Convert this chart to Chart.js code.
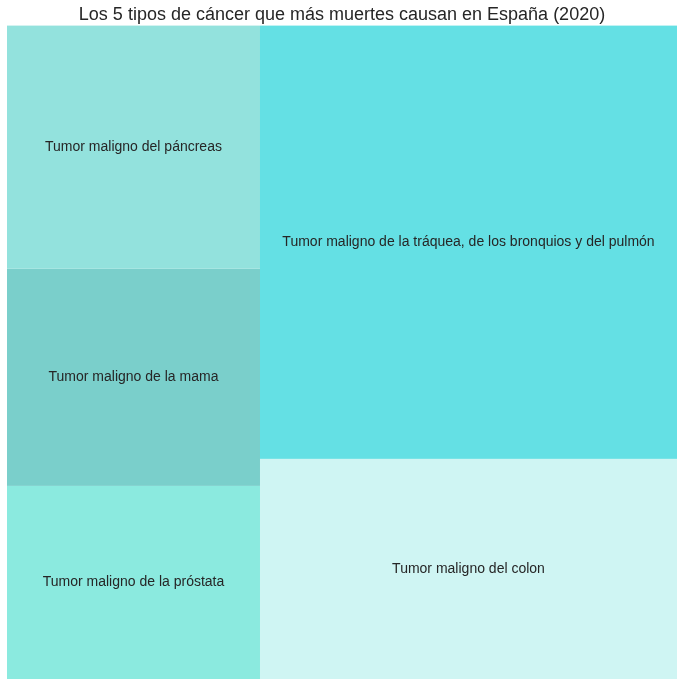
<!DOCTYPE html>
<html>
<head>
<meta charset="utf-8">
<script src="https://cdn.jsdelivr.net/npm/chart.js@4"></script>
<style>
html,body{margin:0;padding:0;background:#fff;}
#wrap{width:683px;height:686px;position:relative;}
</style>
</head>
<body>
<div id="wrap"><canvas id="c"></canvas></div>
<script>
// Data (ascending order, as laid out by squarify)
const categories = [
  "Tumor maligno de la próstata",
  "Tumor maligno de la mama",
  "Tumor maligno del páncreas",
  "Tumor maligno del colon",
  "Tumor maligno de la tráquea, de los bronquios y del pulmón"
];
const deaths = [6026, 6777, 7587, 11324, 22286];
const colors = ["#8beadf", "#7acfcb", "#93e2dd", "#cff5f3", "#64e0e4"];
const titleText = "Los 5 tipos de cáncer que más muertes causan en España (2020)";

// squarify layout (in data units 0..100 x 0..100, y upward)
function normalize(sizes, dx, dy){
  const tot = sizes.reduce((a,b)=>a+b,0);
  return sizes.map(s => s * dx * dy / tot);
}
function layoutrow(sizes,x,y,dx,dy){
  const cov = sizes.reduce((a,b)=>a+b,0), w = cov/dy, r=[];
  for(const s of sizes){ r.push({x:x,y:y,dx:w,dy:s/w}); y += s/w; }
  return r;
}
function layoutcol(sizes,x,y,dx,dy){
  const cov = sizes.reduce((a,b)=>a+b,0), h = cov/dx, r=[];
  for(const s of sizes){ r.push({x:x,y:y,dx:s/h,dy:h}); x += s/h; }
  return r;
}
function layout(sizes,x,y,dx,dy){ return dx>=dy ? layoutrow(sizes,x,y,dx,dy) : layoutcol(sizes,x,y,dx,dy); }
function leftover(sizes,x,y,dx,dy){
  const cov = sizes.reduce((a,b)=>a+b,0);
  if(dx>=dy){ const w=cov/dy; return [x+w,y,dx-w,dy]; }
  const h=cov/dx; return [x,y+h,dx,dy-h];
}
function worst(sizes,x,y,dx,dy){
  return Math.max(...layout(sizes,x,y,dx,dy).map(r=>Math.max(r.dx/r.dy,r.dy/r.dx)));
}
function squarify(sizes,x,y,dx,dy){
  if(sizes.length===0) return [];
  if(sizes.length===1) return layout(sizes,x,y,dx,dy);
  let i=1;
  while(i<sizes.length && worst(sizes.slice(0,i),x,y,dx,dy) >= worst(sizes.slice(0,i+1),x,y,dx,dy)) i++;
  const cur=sizes.slice(0,i), rem=sizes.slice(i);
  const [lx,ly,ldx,ldy]=leftover(cur,x,y,dx,dy);
  return layout(cur,x,y,dx,dy).concat(squarify(rem,lx,ly,ldx,ldy));
}
const rects = squarify(normalize(deaths,100,100),0,0,100,100);

const treemapPlugin = {
  id:'treemap',
  afterDatasetsDraw(chart){
    const ctx=chart.ctx, xs=chart.scales.x, ys=chart.scales.y;
    ctx.save();
    rects.forEach((r,i)=>{
      const x0=xs.getPixelForValue(r.x), x1=xs.getPixelForValue(r.x+r.dx);
      const y0=ys.getPixelForValue(r.y+r.dy), y1=ys.getPixelForValue(r.y);
      ctx.fillStyle=colors[i];
      ctx.fillRect(x0,y0,x1-x0,y1-y0);
    });
    ctx.fillStyle="#262626";
    ctx.font="14px 'Liberation Sans', Arial, sans-serif";
    ctx.textAlign="center"; ctx.textBaseline="middle";
    rects.forEach((r,i)=>{
      const cx=xs.getPixelForValue(r.x+r.dx/2), cy=ys.getPixelForValue(r.y+r.dy/2);
      ctx.fillText(categories[i],cx,cy);
    });
    ctx.restore();
  }
};

new Chart(document.getElementById('c'),{
  type:'scatter',
  data:{datasets:[{data:[],label:'deaths'}]},
  options:{
    responsive:true, maintainAspectRatio:false, animation:false,
    layout:{padding:{left:7,right:6,top:0,bottom:7}},
    plugins:{
      legend:{display:false}, tooltip:{enabled:false},
      title:{display:true,text:titleText,color:"#262626",
        font:{family:"'Liberation Sans', Arial, sans-serif",size:18,weight:'normal'},
        padding:{top:4,bottom:0}}
    },
    scales:{
      x:{type:'linear',min:0,max:100,display:false},
      y:{type:'linear',min:0,max:100,display:false}
    }
  },
  plugins:[treemapPlugin]
});
</script>
</body>
</html>
